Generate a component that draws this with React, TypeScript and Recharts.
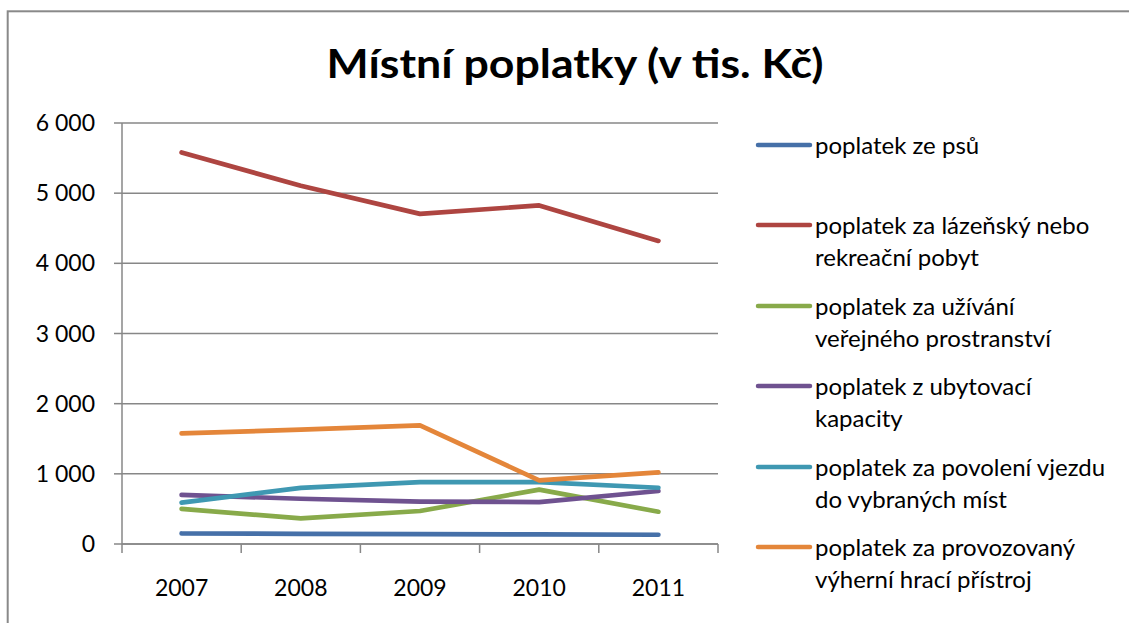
import React from 'react';
import { LineChart, Line, XAxis, YAxis, CartesianGrid, Legend } from 'recharts';

const years = ['2007', '2008', '2009', '2010', '2011'];
const poplatekPsu = [150, 145, 140, 138, 132];
const poplatekLazensky = [5580, 5105, 4705, 4825, 4320];
const poplatekUzivani = [500, 365, 470, 775, 460];
const poplatekUbytovaci = [700, 645, 605, 598, 755];
const poplatekVjezd = [590, 800, 883, 883, 802];
const poplatekVyherni = [1576, 1630, 1690, 906, 1020];
const yTicks = [0, 1000, 2000, 3000, 4000, 5000, 6000];

const seriesNames = [
  'poplatek ze psů',
  'poplatek za lázeňský nebo\nrekreační pobyt',
  'poplatek za užívání\nveřejného prostranství',
  'poplatek z ubytovací\nkapacity',
  'poplatek za povolení vjezdu\ndo vybraných míst',
  'poplatek za provozovaný\nvýherní hrací přístroj',
];
const seriesValues = [
  poplatekPsu,
  poplatekLazensky,
  poplatekUzivani,
  poplatekUbytovaci,
  poplatekVjezd,
  poplatekVyherni,
];
const seriesColors = ['#4670A8', '#AE4541', '#88AA4A', '#6F5290', '#3F98B2', '#E4863A'];

const title = 'Místní poplatky (v tis. Kč)';

const data = years.map((y, i) => {
  const row: Record<string, string | number> = { year: y };
  seriesValues.forEach((vals, s) => {
    row['s' + s] = vals[i];
  });
  return row;
});

const FONT = 'Lato, "Open Sans", sans-serif';
const GRID = '#878787';

const formatThousands = (v: number) => {
  const s = String(v);
  return s.replace(/\B(?=(\d{3})+(?!\d))/g, ' ');
};

const XTick = (props: any) => {
  const { x, y, payload, index } = props;
  const off = payload && typeof payload.offset === 'number' && payload.offset > 0 ? payload.offset : 59.6;
  return (
    <g>
      <line x1={x - off} x2={x - off} y1={y} y2={y + 9} stroke={GRID} strokeWidth={1.5} />
      {index === years.length - 1 && (
        <line x1={x + off} x2={x + off} y1={y} y2={y + 9} stroke={GRID} strokeWidth={1.5} />
      )}
      <text x={x} y={y + 52} textAnchor="middle" fill="#000" fontFamily={FONT} fontSize={23}>
        {payload.value}
      </text>
    </g>
  );
};

const LegendContent = (props: any) => {
  const payload = [...(props.payload || [])].sort(
    (a: any, b: any) => seriesNames.indexOf(a.value) - seriesNames.indexOf(b.value)
  );
  return (
    <div style={{ fontFamily: FONT, fontSize: 24, color: '#000' }}>
      {payload.map((entry: any, i: number) => {
        const lines = String(entry.value).split('\n');
        return (
          <div key={i} style={{ position: 'relative', height: 80.4 }}>
            <svg width={60} height={32} style={{ position: 'absolute', left: 0, top: 0 }}>
              <line x1={3} x2={55} y1={16} y2={16} stroke={entry.color} strokeWidth={4.5} strokeLinecap="round" />
            </svg>
            <div style={{ position: 'absolute', left: 60, top: 0, lineHeight: '32px', whiteSpace: 'nowrap' }}>
              {lines.map((l, j) => (
                <div key={j}>{l}</div>
              ))}
            </div>
          </div>
        );
      })}
    </div>
  );
};

export default function App() {
  return (
    <div style={{ position: 'absolute', left: 0, top: 0, width: 1129, height: 623, background: '#fff', overflow: 'hidden' }}>
      <svg width={1129} height={623} style={{ position: 'absolute', left: 0, top: 0 }}>
        <rect x={7.7} y={11.3} width={1200} height={700} fill="#fff" stroke="#898989" strokeWidth={2} />
        <text
          x={575}
          y={78}
          textAnchor="middle"
          fontFamily={FONT}
          fontWeight={700}
          fontSize={41}
          textLength={497}
          lengthAdjust="spacingAndGlyphs"
          fill="#000"
        >
          {title}
        </text>
      </svg>
      <div style={{ position: 'absolute', left: 0, top: 0 }}>
        <LineChart width={1129} height={623} data={data} margin={{ top: 123, right: 411, bottom: 19, left: 0 }}>
          <CartesianGrid vertical={false} stroke={GRID} strokeWidth={1.5} />
          <XAxis
            dataKey="year"
            scale="band"
            height={60}
            axisLine={{ stroke: GRID, strokeWidth: 1.5 }}
            tickLine={false}
            tickSize={0}
            tickMargin={0}
            tick={<XTick />}
            interval={0}
          />
          <YAxis
            width={122}
            domain={[0, 6000]}
            ticks={yTicks}
            interval={0}
            axisLine={{ stroke: GRID, strokeWidth: 1.5 }}
            tickLine={{ stroke: GRID, strokeWidth: 1.5 }}
            tickSize={8}
            tickMargin={19}
            tickFormatter={formatThousands}
            tick={{ fill: '#000', fontFamily: FONT, fontSize: 23 }}
          />
          <Legend
            layout="horizontal"
            align="center"
            verticalAlign="middle"
            itemSorter="dataKey"
            content={<LegendContent />}
            wrapperStyle={{ left: 755, top: 129, width: 370, height: 490 }}
          />
          {seriesNames.map((name, s) => (
            <Line
              key={s}
              type="linear"
              dataKey={'s' + s}
              name={name}
              stroke={seriesColors[s]}
              strokeWidth={4.7}
              strokeLinecap="round"
              strokeLinejoin="round"
              dot={false}
              activeDot={false}
              isAnimationActive={false}
            />
          ))}
        </LineChart>
      </div>
    </div>
  );
}
